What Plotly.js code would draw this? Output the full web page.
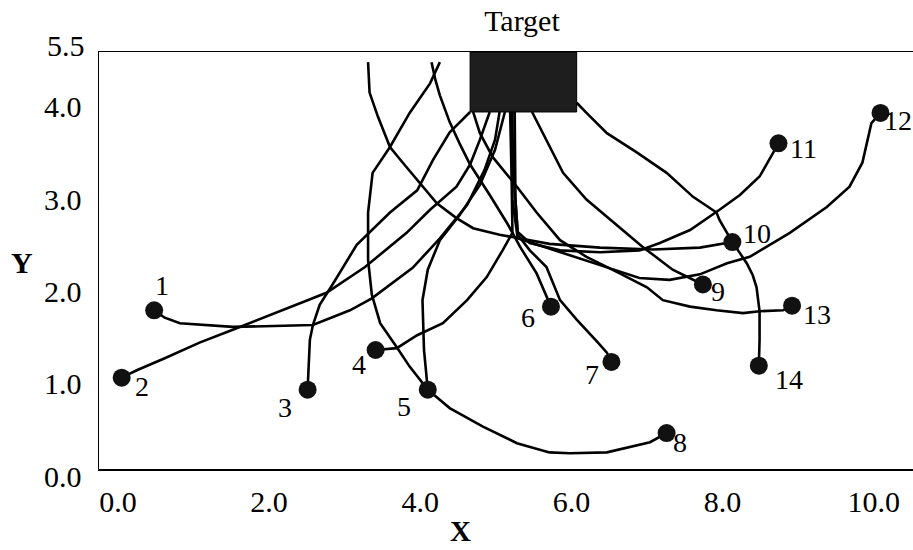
<!DOCTYPE html>
<html>
<head>
<meta charset="utf-8">
<script src="https://cdn.plot.ly/plotly-3.0.1.min.js"></script>
<style>html,body{margin:0;padding:0;background:#fff;}#chart{width:913px;height:550px;}</style>
</head>
<body>
<div id="chart"></div>
<script>
// Start positions (numbered)
const startLabels = ['1','2','3','4','5','6','7','8','9','10','11','12','13','14'];
const startX = [0.48,0.05,2.51,3.41,4.10,5.73,6.53,7.26,7.74,8.13,8.74,10.09,8.92,8.48];
const startY = [1.72,0.99,0.86,1.29,0.86,1.76,1.16,0.39,2.00,2.46,3.53,3.86,1.77,1.12];

// Trajectories from each start position
const trajX = [
  [0.48,0.62,0.82,1.52,2.58,3.07,3.36,3.90,4.26,4.62,4.85,4.99,5.05],
  [0.05,0.25,0.62,1.08,1.52,2.10,2.76,3.27,3.82,4.13,4.48,4.66,4.79,4.92],
  [2.51,2.53,2.54,2.58,2.67,2.84,3.16,3.60,3.96,4.17,4.39,4.66],
  [3.41,3.69,3.96,4.30,4.62,4.88,5.09,5.22,5.21,5.19],
  [4.10,4.05,4.03,4.10,4.26,4.52,4.79,4.99,5.12],
  [5.73,5.54,5.32,5.16,4.92,4.66,4.52,4.39,4.26,4.20,4.15],
  [6.53,6.47,6.34,6.07,5.85,5.67,5.45,5.29,5.26,5.25],
  [7.26,7.04,6.47,5.98,5.71,5.28,4.83,4.39,4.10,3.86,3.69,3.47,3.36,3.31,3.31,3.37,3.60,3.86,4.13,4.26],
  [7.74,7.57,7.34,6.94,6.64,6.20,5.89,5.62,5.48],
  [8.13,7.70,7.08,6.38,5.71,5.05,4.70,4.48,4.22,3.96,3.77,3.60,3.44,3.33,3.31],
  [8.74,8.49,8.23,7.96,7.57,7.17,6.90,6.38,5.85,5.45,5.29,5.24,5.21],
  [10.09,9.97,9.92,9.85,9.68,9.38,8.89,8.36,8.06,7.70,7.30,6.90,6.38,5.85,5.45,5.29,5.22,5.22],
  [8.92,8.80,8.49,8.27,7.92,7.57,7.21,7.00,6.64,6.20,5.85,5.54,5.28,4.96,4.79,4.70],
  [8.48,8.49,8.49,8.45,8.40,8.32,8.23,8.13,7.96,7.92,7.61,7.26,6.87,6.47,6.20,6.07]
];
const trajY = [
  [1.72,1.64,1.58,1.54,1.56,1.72,1.85,2.18,2.50,2.86,3.24,3.57,3.87],
  [0.99,1.07,1.20,1.37,1.51,1.70,1.91,2.19,2.56,2.81,3.06,3.30,3.57,3.87],
  [0.86,1.18,1.40,1.56,1.78,2.00,2.43,2.78,3.02,3.35,3.65,3.87],
  [1.29,1.31,1.45,1.58,1.83,2.08,2.37,2.56,3.13,3.87],
  [0.86,1.29,1.83,2.16,2.48,2.75,3.08,3.46,3.87],
  [1.76,2.12,2.41,2.65,2.97,3.30,3.53,3.76,4.05,4.22,4.41],
  [1.16,1.26,1.38,1.62,1.83,2.19,2.37,2.54,2.92,3.87],
  [0.39,0.29,0.18,0.17,0.18,0.28,0.46,0.66,0.86,1.11,1.32,1.58,1.89,2.27,2.78,3.21,3.49,3.86,4.18,4.41],
  [2.00,2.07,2.16,2.41,2.62,2.92,3.21,3.64,3.87],
  [2.46,2.40,2.38,2.40,2.44,2.54,2.61,2.72,2.88,3.13,3.32,3.49,3.82,4.08,4.41],
  [3.53,3.17,2.97,2.81,2.59,2.45,2.37,2.35,2.37,2.45,2.57,3.13,3.87],
  [3.86,3.75,3.57,3.32,3.06,2.84,2.56,2.30,2.23,2.11,2.05,2.07,2.21,2.35,2.45,2.50,2.92,3.87],
  [1.77,1.72,1.71,1.69,1.72,1.76,1.83,1.97,2.12,2.30,2.48,2.78,3.06,3.38,3.64,3.87],
  [1.12,1.40,1.71,1.97,2.10,2.23,2.34,2.46,2.70,2.78,2.95,3.21,3.43,3.64,3.86,3.97]
];

// Target region
const targetX = [4.66, 6.07];
const targetY = [3.87, 4.52];

// Axis ticks
const xTickVals = [0,2,4,6,8,10];
const xTickText = ['0.0','2.0','4.0','6.0','8.0','10.0'];
const yTickVals = [0,1,2,3,4];
const yTickText = ['0.0','1.0','2.0','3.0','4.0'];
const yTopLabel = '5.5';

// ---- styling ----
const FONT = 'Liberation Serif, Times New Roman, serif';
const labelShift = [[8,25],[20,-9],[-23,-18],[-17,-15],[-24,-17],[-23,-11],[-19,-13],[13,-9],[15,-7],[25,9],[25,-5],[17,-8],[25,-9],[30,-14]];

const traces = trajX.map((xs, i) => ({
  type: 'scatter', mode: 'lines', x: xs, y: trajY[i],
  line: {color: '#000', width: 2.6}, hoverinfo: 'skip', name: 'path ' + startLabels[i]
}));
traces.push({
  type: 'scatter', mode: 'markers', x: startX, y: startY,
  marker: {size: 18, color: '#111', line: {width: 0}}, name: 'start'
});

const annotations = startLabels.map((t, i) => ({
  x: startX[i], y: startY[i], xref: 'x', yref: 'y', text: t, showarrow: false,
  xanchor: 'center', yanchor: 'middle', xshift: labelShift[i][0], yshift: labelShift[i][1],
  font: {family: FONT, size: 28, color: '#000'}
}));
annotations.push({x: -0.0147, y: 1, xref: 'paper', yref: 'paper', xanchor: 'right', yanchor: 'middle',
  yshift: 7, text: yTopLabel, showarrow: false, font: {family: FONT, size: 30, color: '#000'}});
annotations.push({x: 0.4435, y: -0.148, xref: 'paper', yref: 'paper', xanchor: 'center', yanchor: 'middle',
  text: '<b>X</b>', showarrow: false, font: {family: FONT, size: 29, color: '#000'}});
annotations.push({x: -0.0946, y: 0.496, xref: 'paper', yref: 'paper', xanchor: 'center', yanchor: 'middle',
  text: '<b>Y</b>', showarrow: false, font: {family: FONT, size: 30, color: '#000'}});

const layout = {
  width: 913, height: 550,
  margin: {l: 99, r: 0, t: 52, b: 81},
  paper_bgcolor: '#fff', plot_bgcolor: '#fff',
  showlegend: false,
  title: {text: 'Target', x: 0.5717, xref: 'container', xanchor: 'center', y: 0.9636, yref: 'container', yanchor: 'middle',
    font: {family: FONT, size: 30, color: '#000'}},
  xaxis: {range: [-0.25, 10.52], tickvals: xTickVals, ticktext: xTickText, showline: true, mirror: true,
    linecolor: '#000', linewidth: 1.5, showgrid: false, zeroline: false, ticks: 'outside', ticklen: 5,
    tickcolor: 'rgba(0,0,0,0)', tickfont: {family: FONT, size: 30, color: '#000'}},
  yaxis: {range: [0, 4.52], tickvals: yTickVals, ticktext: yTickText, showline: true, mirror: false,
    linecolor: '#000', linewidth: 1.5, showgrid: false, zeroline: false, ticks: 'outside', ticklen: 10,
    tickcolor: 'rgba(0,0,0,0)', ticklabelshift: 7, tickfont: {family: FONT, size: 30, color: '#000'}},
  shapes: [{type: 'rect', xref: 'x', yref: 'y', x0: targetX[0], x1: targetX[1], y0: targetY[0], y1: targetY[1],
    fillcolor: '#1e1e1e', line: {color: '#000', width: 1}}],
  annotations: annotations
};

Plotly.newPlot('chart', traces, layout, {staticPlot: true, displayModeBar: false});
</script>
</body>
</html>
